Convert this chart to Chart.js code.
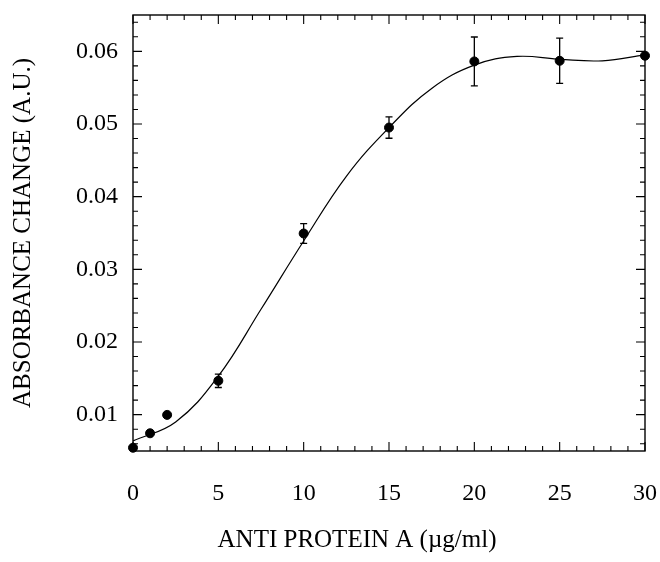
<!DOCTYPE html>
<html>
<head>
<meta charset="utf-8">
<script src="https://cdn.jsdelivr.net/npm/chart.js@4/dist/chart.umd.min.js"></script>
<style>
  html, body { margin: 0; padding: 0; background: #fff; }
  #wrap { width: 660px; height: 562px; }
</style>
</head>
<body>
<div id="wrap"><canvas id="chart"></canvas></div>
<script>
// measured points (mean +/- error)
const concentration = [0, 1, 2, 5, 10, 15, 20, 25, 30];
const absorbance = [0.00545, 0.00744, 0.00997, 0.01466, 0.03493, 0.04951, 0.05861, 0.0587, 0.0594];
const errors = [0, 0, 0, 0.00092, 0.00135, 0.00147, 0.00336, 0.00312, 0];

// fitted curve
const curveX = [0, 2.5, 5, 7.5, 10, 12.5, 15, 17.5, 20, 22.5, 25, 27.5, 30];
const curveY = [0.0064, 0.0090, 0.0153, 0.0245, 0.0339, 0.0428, 0.0495, 0.0549, 0.0581, 0.0593, 0.0589, 0.0587, 0.0595];

const xTicks = [0, 5, 10, 15, 20, 25, 30];
const yTicks = [0.01, 0.02, 0.03, 0.04, 0.05, 0.06];
const xTitle = 'ANTI PROTEIN A (\u00b5g/ml)';
const yTitle = 'ABSORBANCE CHANGE (A.U.)';

const serif = "'Liberation Serif', 'Times New Roman', serif";

const noPadding = (s) => { s.paddingTop = 0; s.paddingBottom = 0; s.paddingLeft = 0; s.paddingRight = 0; };

const frame = {
  id: 'frame',
  beforeDatasetsDraw(chart) {
    const { ctx, scales: { x, y } } = chart;
    ctx.save();
    ctx.strokeStyle = '#000';
    ctx.lineWidth = 1.3;
    concentration.forEach((c, i) => {
      if (!errors[i]) return;
      const px = x.getPixelForValue(c);
      const top = y.getPixelForValue(absorbance[i] + errors[i]);
      const bot = y.getPixelForValue(absorbance[i] - errors[i]);
      ctx.beginPath();
      ctx.moveTo(px, top); ctx.lineTo(px, bot);
      ctx.moveTo(px - 3.5, top); ctx.lineTo(px + 3.5, top);
      ctx.moveTo(px - 3.5, bot); ctx.lineTo(px + 3.5, bot);
      ctx.stroke();
    });
    ctx.restore();
  },
  afterDraw(chart) {
    const { ctx, chartArea: a, scales: { x, y } } = chart;
    ctx.save();
    ctx.strokeStyle = '#000';
    ctx.lineWidth = 1.4;
    ctx.strokeRect(a.left, a.top, a.right - a.left, a.bottom - a.top);
    ctx.lineWidth = 1.1;
    ctx.beginPath();
    for (let v = 0; v <= 30; v++) {
      const px = x.getPixelForValue(v);
      const len = v % 5 === 0 ? 9 : 5;
      ctx.moveTo(px, a.bottom); ctx.lineTo(px, a.bottom - len);
      ctx.moveTo(px, a.top); ctx.lineTo(px, a.top + len);
    }
    for (let k = 3; k <= 32; k++) {
      const py = y.getPixelForValue(k * 0.002);
      const len = k % 5 === 0 ? 9 : 5;
      ctx.moveTo(a.left, py); ctx.lineTo(a.left + len, py);
      ctx.moveTo(a.right, py); ctx.lineTo(a.right - len, py);
    }
    ctx.stroke();
    ctx.fillStyle = '#000';
    ctx.font = `25px ${serif}`;
    ctx.textAlign = 'center';
    ctx.textBaseline = 'middle';
    ctx.fillText(xTitle, a.left + 224, 540);
    ctx.restore();
  }
};

new Chart(document.getElementById('chart'), {
  type: 'scatter',
  data: {
    datasets: [
      {
        type: 'line',
        data: curveX.map((v, i) => ({ x: v, y: curveY[i] })),
        borderColor: '#000',
        borderWidth: 1.2,
        pointRadius: 0,
        tension: 0.4,
        fill: false
      },
      {
        data: concentration.map((v, i) => ({ x: v, y: absorbance[i] })),
        backgroundColor: '#000',
        borderColor: '#000',
        pointRadius: 4.5,
        pointHoverRadius: 4.5,
        clip: false
      }
    ]
  },
  options: {
    responsive: true,
    maintainAspectRatio: false,
    animation: false,
    layout: { padding: { top: 15, right: 15, left: 0, bottom: 0 } },
    plugins: { legend: { display: false }, tooltip: { enabled: false } },
    scales: {
      x: {
        type: 'linear', min: 0, max: 30,
        afterBuildTicks: (s) => { s.ticks = xTicks.map((v) => ({ value: v })); },
        afterFit: (s) => { s.height = 111; noPadding(s); },
        grid: { display: false, drawTicks: false },
        border: { display: false },
        ticks: { color: '#000', font: { family: serif, size: 24 }, padding: 28, maxRotation: 0 }
      },
      y: {
        type: 'linear', min: 0.005, max: 0.065,
        afterBuildTicks: (s) => { s.ticks = yTicks.map((v) => ({ value: v })); },
        afterFit: (s) => { s.width = 133; noPadding(s); },
        grid: { display: false, drawTicks: false },
        border: { display: false },
        ticks: { color: '#000', font: { family: serif, size: 24 }, padding: 15, callback: (v) => v.toFixed(2) },
        title: { display: true, text: yTitle, color: '#000', font: { family: serif, size: 25 }, padding: { top: 8, bottom: 0 } }
      }
    }
  },
  plugins: [frame]
});
</script>
</body>
</html>
